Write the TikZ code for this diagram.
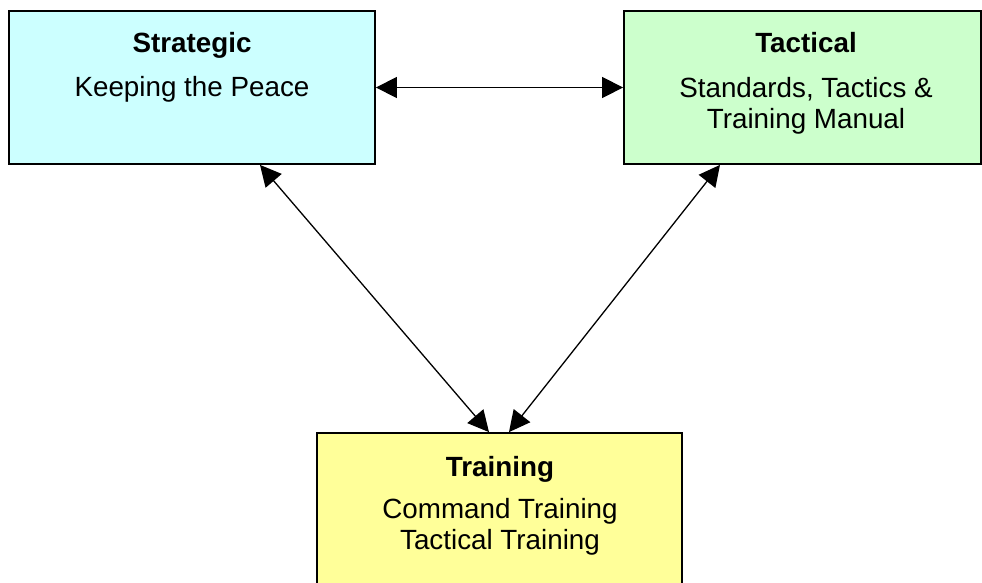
\documentclass[tikz,border=0pt]{standalone}
\usepackage{fontspec}
\setmainfont{Liberation Sans}
\usetikzlibrary{arrows.meta}
\definecolor{stratfill}{HTML}{CCFFFF}
\definecolor{tactfill}{HTML}{CCFFCC}
\definecolor{trainfill}{HTML}{FFFF99}
\begin{document}
\begin{tikzpicture}[x=1pt,y=-1pt,
  panel/.style={draw=black, line width=1.8pt, inner sep=0pt, rectangle},
  heading/.style={anchor=base, inner sep=0pt, font=\fontsize{27.8}{32}\selectfont\bfseries},
  bodyline/.style={anchor=base, inner sep=0pt, font=\fontsize{27.8}{32}\selectfont},
  link/.style={line width=1.3pt, {Triangle[length=21pt,width=21pt]}-{Triangle[length=21pt,width=21pt]}}]
  \useasboundingbox (0,0) rectangle (982,582);
  \clip (0,0) rectangle (982,582);

  % the three panels
  \node[panel, fill=stratfill, minimum width=366pt, minimum height=153pt] (strat) at (192,87.5) {};
  \node[panel, fill=tactfill, minimum width=357pt, minimum height=153pt] (tact) at (802.5,87.5) {};
  \node[panel, fill=trainfill, minimum width=365pt, minimum height=170pt] (train) at (499.5,518) {};

  % panel texts
  \node[heading] (stratT) at (192,52) {Strategic};
  \node[bodyline] (stratB) at (192,96) {Keeping the Peace};

  \node[heading] (tactT) at (806,52) {Tactical};
  \node[bodyline] (tactB1) at (806,97) {Standards, Tactics \&};
  \node[bodyline] (tactB2) at (806,128) {Training Manual};

  \node[heading] (trainT) at (500,476) {Training};
  \node[bodyline] (trainB1) at (500,518) {Command Training};
  \node[bodyline] (trainB2) at (500,549) {Tactical Training};

  % two-way links between the panels
  \draw[link] (strat.east) -- (tact.west);
  \draw[link] ([xshift=68pt]strat.south) -- ([xshift=-10.5pt]train.north);
  \draw[link] ([xshift=-82.5pt]tact.south) -- ([xshift=9.5pt]train.north);
\end{tikzpicture}
\end{document}
